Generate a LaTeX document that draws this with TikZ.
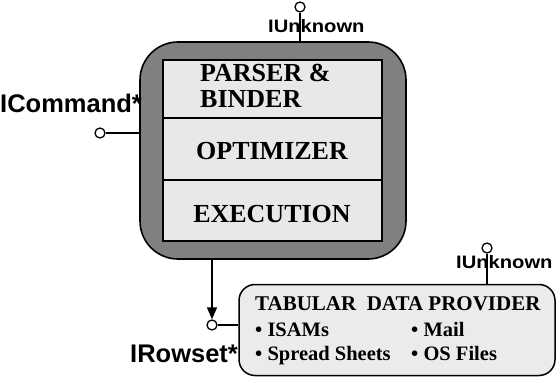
\documentclass[tikz,border=0pt]{standalone}
\usepackage{fontspec}
\setmainfont{Liberation Serif}
\newfontfamily\lsans{Liberation Sans}
\newfontfamily\lsanswide[FakeStretch=1.12]{Liberation Sans}
\usetikzlibrary{arrows.meta}
\begin{document}
\begin{tikzpicture}[x=1pt,y=-1pt,
  ring/.style={draw=black,line width=1.6pt,fill=black!50,rounded corners=38pt,
    minimum width=266pt,minimum height=217pt,inner sep=0pt},
  innerbox/.style={draw=black,line width=1.6pt,fill=black!9,
    minimum width=219pt,minimum height=181pt,inner sep=0pt},
  provbox/.style={draw=black,line width=1.5pt,fill=black!8,rounded corners=16pt,
    minimum width=316pt,minimum height=91pt,inner sep=0pt},
  port/.style={circle,draw=black,line width=1.3pt,fill=white,minimum size=10pt,inner sep=0pt},
  conn/.style={line width=1.5pt},
  stagetext/.style={font=\fontsize{26}{26.5}\selectfont\bfseries,inner sep=0pt},
  provtitle/.style={font=\fontsize{21}{21}\selectfont\bfseries,inner sep=0pt,anchor=base west},
  provitem/.style={font=\fontsize{20.5}{20.5}\selectfont\bfseries,inner sep=0pt,anchor=base west},
  iflabel/.style={font=\lsans\fontsize{25.5}{25.5}\selectfont\bfseries,inner sep=0pt,anchor=base west},
  iflabelsmall/.style={font=\lsanswide\fontsize{18}{18}\selectfont\bfseries,inner sep=0pt,anchor=base west}]
\useasboundingbox (0,0) rectangle (557,377);

% main component
\node[ring] (outer) at (273,150.5) {};
\node[innerbox] (inner) at (272.5,150.5) {};
\coordinate (d1) at (163,118);
\coordinate (d2) at (163,180);
\draw[conn] (d1) -- (d1 -| inner.east);
\draw[conn] (d2) -- (d2 -| inner.east);

\node[stagetext,anchor=north west,align=left] (parser) at (200,64) {PARSER \&\\BINDER};
\node[stagetext,anchor=base] (optim) at (272,160) {OPTIMIZER};
\node[stagetext,anchor=base] (exec) at (272,222) {EXECUTION};

% provider
\node[provbox] (prov) at (397,330) {};
\node[provtitle] (provt) at (255,310) {TABULAR\ \ DATA PROVIDER};
\node[provitem] (isam) at (255,336) {\textbullet\ ISAMs};
\node[provitem] (mail) at (411,336) {\textbullet\ Mail};
\node[provitem] (sheet) at (255,360) {\textbullet\ Spread Sheets};
\node[provitem] (osf) at (411,360) {\textbullet\ OS Files};

% ports
\node[port] (unk1) at (300,7) {};
\draw[conn] (unk1) -- (unk1 |- outer.north);
\node[iflabelsmall] (unk1t) at (268,33) {IUnknown};

\node[port] (cmd) at (100,133) {};
\draw[conn] (cmd) -- (cmd -| outer.west);
\node[iflabel] (cmdt) at (0,113) {ICommand*};

\node[port] (rows) at (212,325) {};
\draw[conn,-{Triangle[length=12pt,width=10pt]}] (rows |- outer.south) -- (rows.north);
\draw[conn] (rows) -- (rows -| prov.west);
\node[iflabel] (rowst) at (130,362) {IRowset*};

\node[port] (unk2) at (487,248) {};
\draw[conn] (unk2) -- (unk2 |- prov.north);
\node[iflabelsmall] (unk2t) at (456,268) {IUnknown};
\end{tikzpicture}
\end{document}
